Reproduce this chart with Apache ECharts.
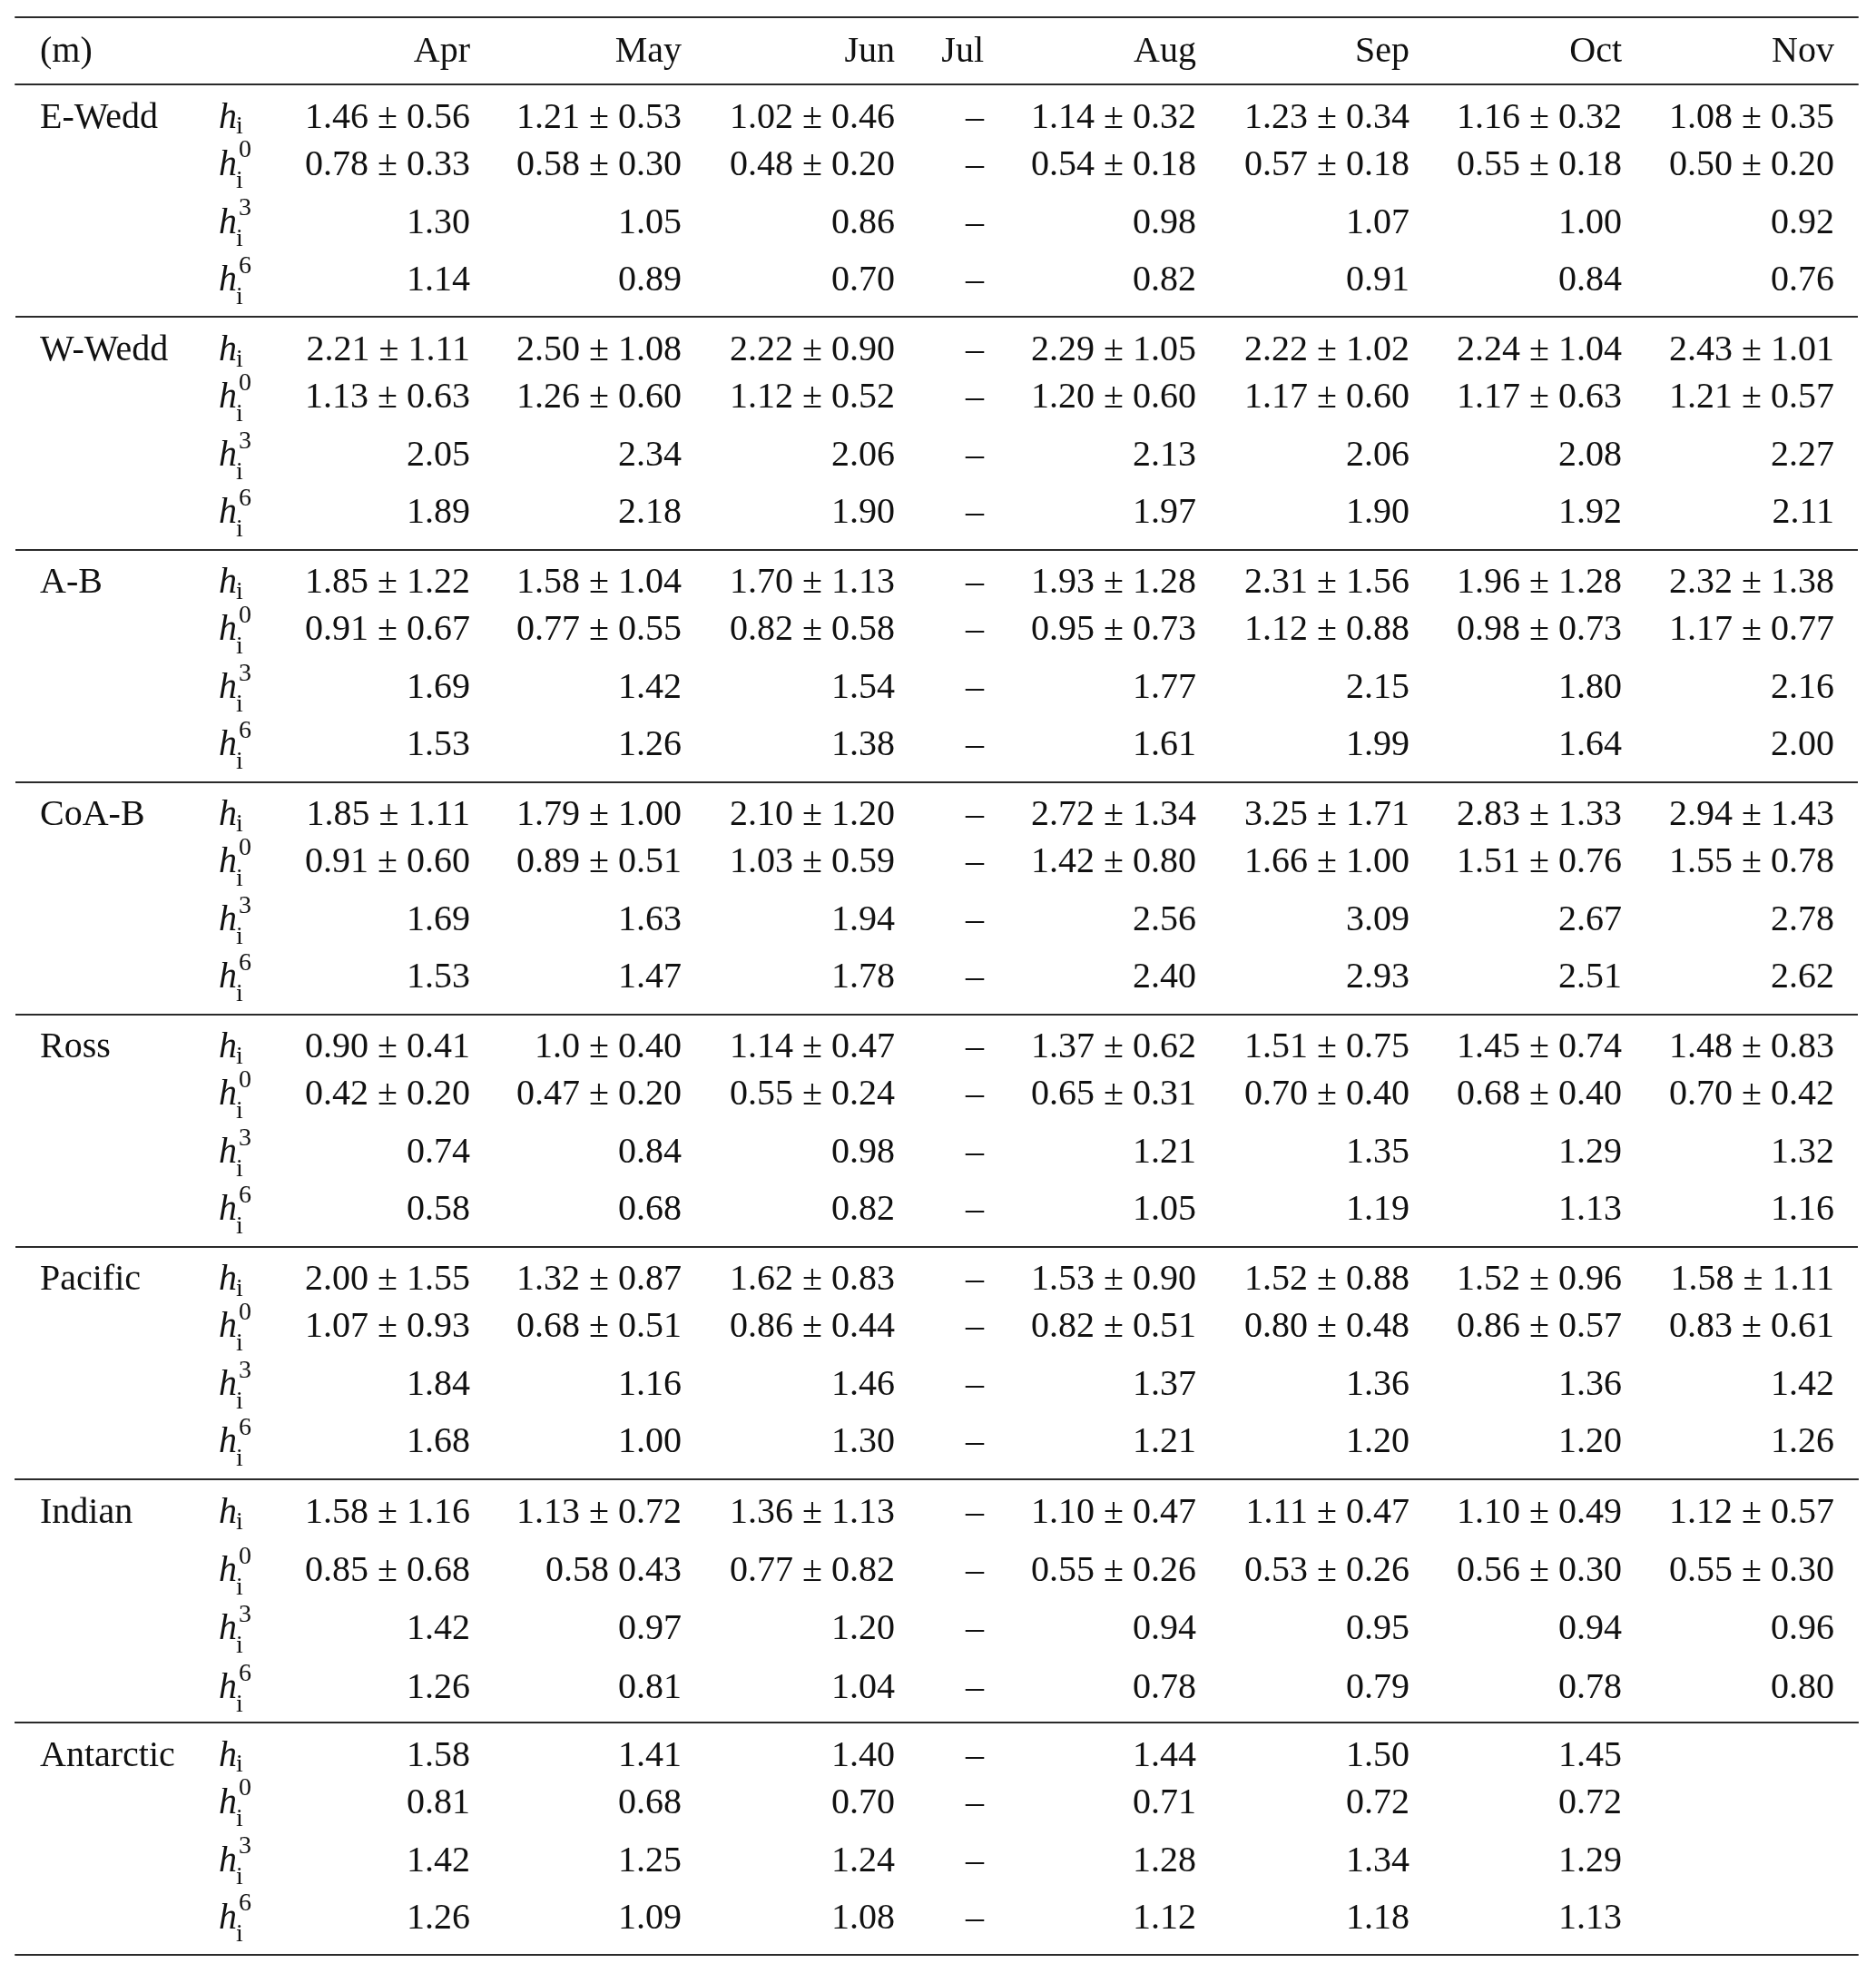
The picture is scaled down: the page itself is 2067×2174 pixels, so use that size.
<!DOCTYPE html>
<html><head><meta charset="utf-8">
<script src="https://cdn.jsdelivr.net/npm/echarts@6/dist/echarts.min.js"></script>
<style>html,body{margin:0;padding:0;background:#fff}#c{width:2067px;height:2174px}</style>
</head><body><div id="c"></div>
<script>
// ---------- data ----------
const months = ['Apr', 'May', 'Jun', 'Jul', 'Aug', 'Sep', 'Oct', 'Nov'];
const noDataMonths = ['Jul'];
const regions = ['E-Wedd', 'W-Wedd', 'A-B', 'CoA-B', 'Ross', 'Pacific', 'Indian', 'Antarctic'];
const rowKinds = ['hi', 'h0', 'h3', 'h6'];
const kindSup = ['', '0', '3', '6'];
const unitLabel = '(m)';

const eWedd_hi   = ['1.46','1.21','1.02',null,'1.14','1.23','1.16','1.08'];
const eWedd_hiSd = ['0.56','0.53','0.46',null,'0.32','0.34','0.32','0.35'];
const eWedd_h0   = ['0.78','0.58','0.48',null,'0.54','0.57','0.55','0.50'];
const eWedd_h0Sd = ['0.33','0.30','0.20',null,'0.18','0.18','0.18','0.20'];
const eWedd_h3   = ['1.30','1.05','0.86',null,'0.98','1.07','1.00','0.92'];
const eWedd_h6   = ['1.14','0.89','0.70',null,'0.82','0.91','0.84','0.76'];

const wWedd_hi   = ['2.21','2.50','2.22',null,'2.29','2.22','2.24','2.43'];
const wWedd_hiSd = ['1.11','1.08','0.90',null,'1.05','1.02','1.04','1.01'];
const wWedd_h0   = ['1.13','1.26','1.12',null,'1.20','1.17','1.17','1.21'];
const wWedd_h0Sd = ['0.63','0.60','0.52',null,'0.60','0.60','0.63','0.57'];
const wWedd_h3   = ['2.05','2.34','2.06',null,'2.13','2.06','2.08','2.27'];
const wWedd_h6   = ['1.89','2.18','1.90',null,'1.97','1.90','1.92','2.11'];

const ab_hi   = ['1.85','1.58','1.70',null,'1.93','2.31','1.96','2.32'];
const ab_hiSd = ['1.22','1.04','1.13',null,'1.28','1.56','1.28','1.38'];
const ab_h0   = ['0.91','0.77','0.82',null,'0.95','1.12','0.98','1.17'];
const ab_h0Sd = ['0.67','0.55','0.58',null,'0.73','0.88','0.73','0.77'];
const ab_h3   = ['1.69','1.42','1.54',null,'1.77','2.15','1.80','2.16'];
const ab_h6   = ['1.53','1.26','1.38',null,'1.61','1.99','1.64','2.00'];

const coab_hi   = ['1.85','1.79','2.10',null,'2.72','3.25','2.83','2.94'];
const coab_hiSd = ['1.11','1.00','1.20',null,'1.34','1.71','1.33','1.43'];
const coab_h0   = ['0.91','0.89','1.03',null,'1.42','1.66','1.51','1.55'];
const coab_h0Sd = ['0.60','0.51','0.59',null,'0.80','1.00','0.76','0.78'];
const coab_h3   = ['1.69','1.63','1.94',null,'2.56','3.09','2.67','2.78'];
const coab_h6   = ['1.53','1.47','1.78',null,'2.40','2.93','2.51','2.62'];

const ross_hi   = ['0.90','1.0','1.14',null,'1.37','1.51','1.45','1.48'];
const ross_hiSd = ['0.41','0.40','0.47',null,'0.62','0.75','0.74','0.83'];
const ross_h0   = ['0.42','0.47','0.55',null,'0.65','0.70','0.68','0.70'];
const ross_h0Sd = ['0.20','0.20','0.24',null,'0.31','0.40','0.40','0.42'];
const ross_h3   = ['0.74','0.84','0.98',null,'1.21','1.35','1.29','1.32'];
const ross_h6   = ['0.58','0.68','0.82',null,'1.05','1.19','1.13','1.16'];

const pacific_hi   = ['2.00','1.32','1.62',null,'1.53','1.52','1.52','1.58'];
const pacific_hiSd = ['1.55','0.87','0.83',null,'0.90','0.88','0.96','1.11'];
const pacific_h0   = ['1.07','0.68','0.86',null,'0.82','0.80','0.86','0.83'];
const pacific_h0Sd = ['0.93','0.51','0.44',null,'0.51','0.48','0.57','0.61'];
const pacific_h3   = ['1.84','1.16','1.46',null,'1.37','1.36','1.36','1.42'];
const pacific_h6   = ['1.68','1.00','1.30',null,'1.21','1.20','1.20','1.26'];

const indian_hi   = ['1.58','1.13','1.36',null,'1.10','1.11','1.10','1.12'];
const indian_hiSd = ['1.16','0.72','1.13',null,'0.47','0.47','0.49','0.57'];
const indian_h0   = ['0.85','0.58','0.77',null,'0.55','0.53','0.56','0.55'];
const indian_h0Sd = ['0.68','0.43','0.82',null,'0.26','0.26','0.30','0.30'];
const indian_h3   = ['1.42','0.97','1.20',null,'0.94','0.95','0.94','0.96'];
const indian_h6   = ['1.26','0.81','1.04',null,'0.78','0.79','0.78','0.80'];

const antarctic_hi = ['1.58','1.41','1.40',null,'1.44','1.50','1.45',null];
const antarctic_h0 = ['0.81','0.68','0.70',null,'0.71','0.72','0.72',null];
const antarctic_h3 = ['1.42','1.25','1.24',null,'1.28','1.34','1.29',null];
const antarctic_h6 = ['1.26','1.09','1.08',null,'1.12','1.18','1.13',null];

// cells printed without the ± sign in the source
const noPmCells = [['Indian', 'h0', 'May']];

// ---------- assembly ----------
const regionRows = [
  [[eWedd_hi, eWedd_hiSd], [eWedd_h0, eWedd_h0Sd], [eWedd_h3, null], [eWedd_h6, null]],
  [[wWedd_hi, wWedd_hiSd], [wWedd_h0, wWedd_h0Sd], [wWedd_h3, null], [wWedd_h6, null]],
  [[ab_hi, ab_hiSd], [ab_h0, ab_h0Sd], [ab_h3, null], [ab_h6, null]],
  [[coab_hi, coab_hiSd], [coab_h0, coab_h0Sd], [coab_h3, null], [coab_h6, null]],
  [[ross_hi, ross_hiSd], [ross_h0, ross_h0Sd], [ross_h3, null], [ross_h6, null]],
  [[pacific_hi, pacific_hiSd], [pacific_h0, pacific_h0Sd], [pacific_h3, null], [pacific_h6, null]],
  [[indian_hi, indian_hiSd], [indian_h0, indian_h0Sd], [indian_h3, null], [indian_h6, null]],
  [[antarctic_hi, null], [antarctic_h0, null], [antarctic_h3, null], [antarctic_h6, null]]
];

function cellText(ri, ki, mi) {
  const m = months[mi];
  if (noDataMonths.indexOf(m) >= 0) return '\u2013';
  const pair = regionRows[ri][ki];
  const v = pair[0][mi];
  if (v == null) return null;
  const sd = pair[1] ? pair[1][mi] : null;
  if (sd == null) return v;
  const noPm = noPmCells.some(c => c[0] === regions[ri] && c[1] === rowKinds[ki] && c[2] === m);
  return v + (noPm ? ' ' : ' \u00b1 ') + sd;
}

// ---------- style / layout ----------
const SERIF = "'Liberation Serif', 'Times New Roman', serif";
const INK = '#111';
const RULE = { color: '#2a2a2a', width: 2 };
const FS = 40, SUB = 28;
const stdRowDy = { hi: 5, h0: -7, h3: -7, h6: -8 };

// vertical bands of blocks (the Indian block is a little taller in the source)
const blockGroups = [
  { first: 0, count: 6, top: 93, height: 1537, rowDy: stdRowDy },
  { first: 6, count: 1, top: 1630, height: 268, rowDy: { hi: 4, h0: 1, h3: -2, h6: -4 } },
  { first: 7, count: 1, top: 1898, height: 256, rowDy: stdRowDy }
];

const columns = [{ key: 'region', header: unitLabel, anchor: 44, align: 'left' },
                 { key: 'sym', header: ' ', anchor: 241, align: 'left' }];
const monthAnchors = [518, 751, 986, 1084, 1318, 1553, 1787, 2021];
months.forEach((m, i) => columns.push({ key: m, header: m, anchor: monthAnchors[i], align: 'right', mi: i }));

const grid = [], xAxis = [], yAxis = [], series = [];

blockGroups.forEach((g, gi) => {
  const gRegions = regions.slice(g.first, g.first + g.count);
  const rowCats = [];
  gRegions.forEach(r => rowKinds.forEach(k => rowCats.push(r + ' ' + k)));
  const rowDy = g.rowDy;

  columns.forEach((col) => {
    const gIdx = grid.length, xIdx = xAxis.length, yIdx = yAxis.length;
    grid.push({ left: col.anchor - 30, width: 60, top: g.top, height: g.height, outerBoundsMode: 'none', containLabel: false });
    xAxis.push({
      gridIndex: gIdx, type: 'category', position: 'top', data: [col.header],
      axisLine: { show: false }, axisTick: { show: false }, splitLine: { show: false },
      axisLabel: { show: gi === 0, interval: 0, align: col.align, verticalAlign: 'middle', margin: 36,
        fontFamily: SERIF, fontSize: FS, color: INK, hideOverlap: false }
    });
    yAxis.push({ gridIndex: gIdx, type: 'category', data: rowCats, inverse: true, show: false });

    const data = [], texts = [];
    if (col.key === 'region') {
      gRegions.forEach((r, lr) => { data.push([0, lr * 4]); texts.push(r); });
    } else if (col.key === 'sym') {
      rowCats.forEach((r, i) => { data.push([0, i]); texts.push(kindSup[i % 4]); });
    } else {
      gRegions.forEach((r, lr) => rowKinds.forEach((k, ki) => {
        const t = cellText(g.first + lr, ki, col.mi);
        if (t != null) { data.push([0, lr * 4 + ki]); texts.push(t); }
      }));
    }

    series.push({
      type: 'custom', xAxisIndex: xIdx, yAxisIndex: yIdx, clip: false, silent: true,
      data: data,
      renderItem: function (params, api) {
        const row = api.value(1);
        const p = api.coord([api.value(0), row]);
        const kind = rowKinds[row % 4];
        const x = p[0], y = p[1] + rowDy[kind];
        const txt = texts[params.dataIndex];
        if (col.key === 'sym') {
          const children = [
            { type: 'text', x: x, y: y, style: { text: 'h', fontFamily: SERIF, fontStyle: 'italic', fontSize: FS, fill: INK, align: 'left', verticalAlign: 'middle' } },
            { type: 'text', x: x + 19, y: y + (txt ? 18 : 10), style: { text: 'i', fontFamily: SERIF, fontSize: SUB, fill: INK, align: 'left', verticalAlign: 'middle' } }
          ];
          if (txt) children.push({ type: 'text', x: x + 22, y: y - 16, style: { text: txt, fontFamily: SERIF, fontSize: SUB, fill: INK, align: 'left', verticalAlign: 'middle' } });
          return { type: 'group', children: children };
        }
        return { type: 'text', x: x, y: y, style: { text: txt, fontFamily: SERIF, fontSize: FS, fill: INK, align: col.align, verticalAlign: 'middle' } };
      }
    });
  });

  // rules grid for this band: block separators (+ header/top/bottom rules)
  const R = grid.length;
  grid.push({ left: 17, right: 20, top: g.top, height: g.height, outerBoundsMode: 'none', containLabel: false });
  const ruleAxis = (pos, off) => ({
    gridIndex: R, type: 'value', position: pos, offset: off, min: 0, max: 1,
    axisLine: { show: true, onZero: false, lineStyle: RULE },
    axisTick: { show: false }, axisLabel: { show: false }, splitLine: { show: false }
  });
  xAxis.push(ruleAxis('top', 0));
  xAxis.push(ruleAxis('bottom', 0));
  if (gi === 0) xAxis.push(ruleAxis('top', 74));
  yAxis.push({
    gridIndex: R, type: 'category', data: gRegions, inverse: true,
    axisLine: { show: false }, axisTick: { show: false }, axisLabel: { show: false },
    splitLine: { show: true, lineStyle: RULE }
  });
});

const chart = echarts.init(document.getElementById('c'), null, { renderer: 'canvas' });
chart.setOption({
  backgroundColor: '#ffffff',
  animation: false,
  grid: grid, xAxis: xAxis, yAxis: yAxis, series: series
});
</script></body></html>
